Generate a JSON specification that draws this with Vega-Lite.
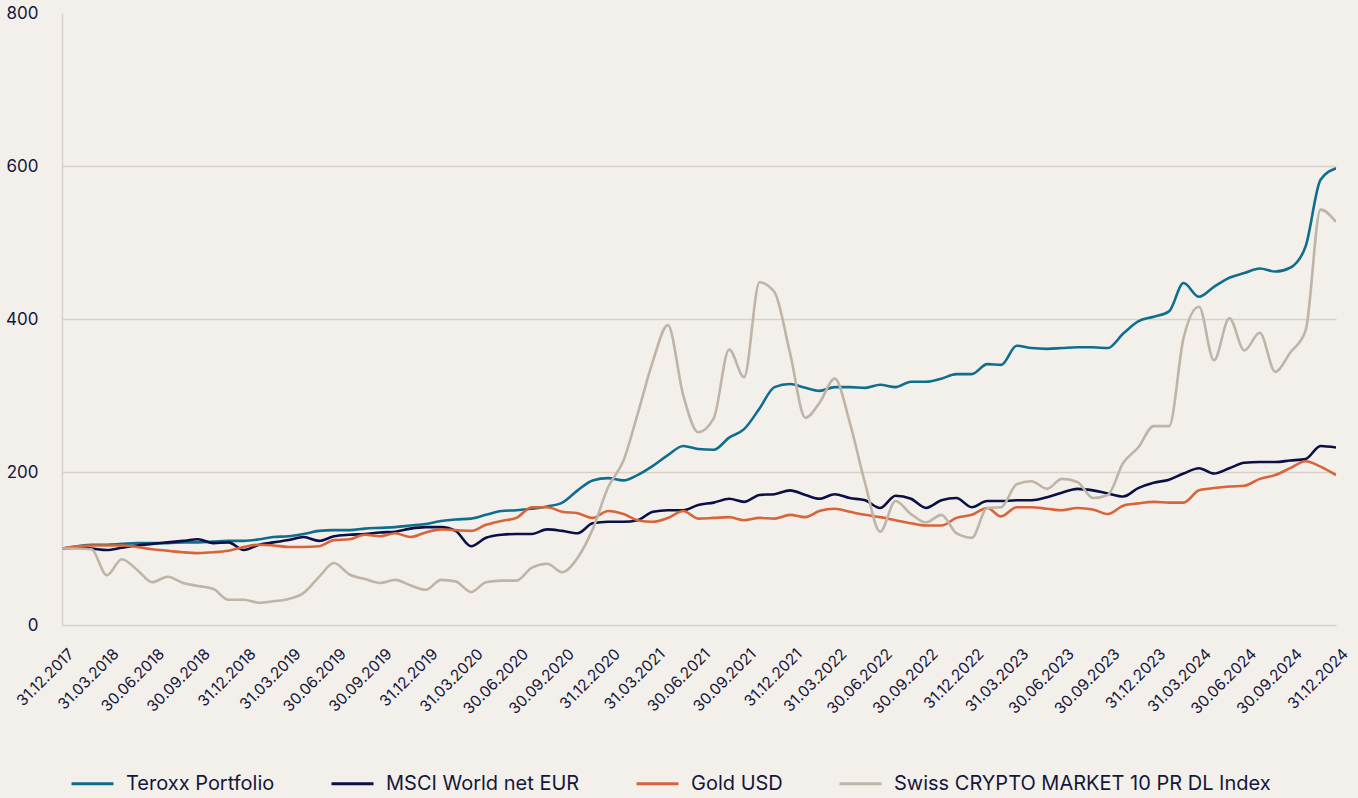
{
  "$schema": "https://vega.github.io/schema/vega-lite/v6.json",
  "width": 1274,
  "height": 612,
  "autosize": {"type": "none"},
  "padding": {"left": 62, "top": 13, "right": 22, "bottom": 173},
  "background": "#f3f0ec",
  "config": {
    "view": {"stroke": null},
    "font": "Inter",
    "axis": {"labelColor": "#15173a", "labelFont": "Inter", "ticks": false, "title": null}
  },
  "data": {
    "values": [
      {"d":"2017-12-31","t":100,"m":100,"g":100,"c":100},
      {"d":"2018-01-31","t":103,"m":101,"g":103,"c":100},
      {"d":"2018-02-28","t":105,"m":100,"g":104,"c":99},
      {"d":"2018-03-31","t":105,"m":98,"g":104,"c":65},
      {"d":"2018-04-30","t":106,"m":101,"g":104,"c":86},
      {"d":"2018-05-31","t":107,"m":104,"g":102,"c":72},
      {"d":"2018-06-30","t":107,"m":106,"g":99,"c":56},
      {"d":"2018-07-31","t":107,"m":108,"g":97,"c":63},
      {"d":"2018-08-31","t":108,"m":110,"g":95,"c":55},
      {"d":"2018-09-30","t":108,"m":112,"g":94,"c":51},
      {"d":"2018-10-31","t":109,"m":107,"g":95,"c":47},
      {"d":"2018-11-30","t":110,"m":108,"g":97,"c":33},
      {"d":"2018-12-31","t":110,"m":98,"g":102,"c":33},
      {"d":"2019-01-31","t":112,"m":105,"g":105,"c":29},
      {"d":"2019-02-28","t":115,"m":108,"g":104,"c":31},
      {"d":"2019-03-31","t":116,"m":111,"g":102,"c":34},
      {"d":"2019-04-30","t":119,"m":115,"g":102,"c":42},
      {"d":"2019-05-31","t":123,"m":110,"g":103,"c":63},
      {"d":"2019-06-30","t":124,"m":116,"g":111,"c":81},
      {"d":"2019-07-31","t":124,"m":118,"g":112,"c":66},
      {"d":"2019-08-31","t":126,"m":119,"g":118,"c":60},
      {"d":"2019-09-30","t":127,"m":121,"g":116,"c":55},
      {"d":"2019-10-31","t":128,"m":122,"g":120,"c":59},
      {"d":"2019-11-30","t":130,"m":126,"g":115,"c":52},
      {"d":"2019-12-31","t":132,"m":128,"g":121,"c":46},
      {"d":"2020-01-31","t":136,"m":128,"g":125,"c":59},
      {"d":"2020-02-29","t":138,"m":123,"g":124,"c":57},
      {"d":"2020-03-31","t":139,"m":103,"g":123,"c":43},
      {"d":"2020-04-30","t":144,"m":114,"g":131,"c":56},
      {"d":"2020-05-31","t":149,"m":118,"g":136,"c":58},
      {"d":"2020-06-30","t":150,"m":119,"g":140,"c":58},
      {"d":"2020-07-31","t":152,"m":119,"g":154,"c":75},
      {"d":"2020-08-31","t":155,"m":125,"g":154,"c":80},
      {"d":"2020-09-30","t":160,"m":123,"g":148,"c":69},
      {"d":"2020-10-31","t":176,"m":120,"g":146,"c":88},
      {"d":"2020-11-30","t":189,"m":133,"g":140,"c":125},
      {"d":"2020-12-31","t":192,"m":135,"g":149,"c":180},
      {"d":"2021-01-31","t":189,"m":135,"g":145,"c":215},
      {"d":"2021-02-28","t":196,"m":137,"g":137,"c":275},
      {"d":"2021-03-31","t":208,"m":148,"g":135,"c":345},
      {"d":"2021-04-30","t":222,"m":150,"g":140,"c":392},
      {"d":"2021-05-31","t":234,"m":150,"g":149,"c":300},
      {"d":"2021-06-30","t":230,"m":157,"g":139,"c":252},
      {"d":"2021-07-31","t":229,"m":160,"g":140,"c":270},
      {"d":"2021-08-31","t":245,"m":165,"g":141,"c":360},
      {"d":"2021-09-30","t":256,"m":161,"g":137,"c":324},
      {"d":"2021-10-31","t":283,"m":170,"g":140,"c":448},
      {"d":"2021-11-30","t":311,"m":171,"g":139,"c":435},
      {"d":"2021-12-31","t":315,"m":176,"g":144,"c":356},
      {"d":"2022-01-31","t":310,"m":170,"g":141,"c":271},
      {"d":"2022-02-28","t":306,"m":165,"g":149,"c":290},
      {"d":"2022-03-31","t":311,"m":171,"g":152,"c":322},
      {"d":"2022-04-30","t":311,"m":166,"g":148,"c":265},
      {"d":"2022-05-31","t":310,"m":163,"g":144,"c":185},
      {"d":"2022-06-30","t":314,"m":153,"g":141,"c":122},
      {"d":"2022-07-31","t":311,"m":169,"g":137,"c":162},
      {"d":"2022-08-31","t":318,"m":165,"g":133,"c":145},
      {"d":"2022-09-30","t":318,"m":153,"g":130,"c":134},
      {"d":"2022-10-31","t":322,"m":163,"g":130,"c":144},
      {"d":"2022-11-30","t":328,"m":166,"g":140,"c":120},
      {"d":"2022-12-31","t":328,"m":154,"g":144,"c":114},
      {"d":"2023-01-31","t":341,"m":162,"g":153,"c":153},
      {"d":"2023-02-28","t":340,"m":162,"g":142,"c":154},
      {"d":"2023-03-31","t":365,"m":163,"g":154,"c":184},
      {"d":"2023-04-30","t":362,"m":163,"g":154,"c":188},
      {"d":"2023-05-31","t":361,"m":167,"g":152,"c":178},
      {"d":"2023-06-30","t":362,"m":173,"g":150,"c":191},
      {"d":"2023-07-31","t":363,"m":178,"g":153,"c":187},
      {"d":"2023-08-31","t":363,"m":176,"g":151,"c":166},
      {"d":"2023-09-30","t":362,"m":172,"g":145,"c":170},
      {"d":"2023-10-31","t":381,"m":168,"g":156,"c":212},
      {"d":"2023-11-30","t":397,"m":179,"g":159,"c":232},
      {"d":"2023-12-31","t":403,"m":186,"g":161,"c":260},
      {"d":"2024-01-31","t":410,"m":190,"g":160,"c":260},
      {"d":"2024-02-29","t":447,"m":198,"g":160,"c":375},
      {"d":"2024-03-31","t":429,"m":205,"g":176,"c":416},
      {"d":"2024-04-30","t":442,"m":198,"g":179,"c":346},
      {"d":"2024-05-31","t":454,"m":205,"g":181,"c":401},
      {"d":"2024-06-30","t":460,"m":212,"g":182,"c":359},
      {"d":"2024-07-31","t":466,"m":213,"g":191,"c":382},
      {"d":"2024-08-31","t":462,"m":213,"g":196,"c":331},
      {"d":"2024-09-30","t":467,"m":215,"g":205,"c":356},
      {"d":"2024-10-31","t":495,"m":217,"g":214,"c":385},
      {"d":"2024-11-30","t":582,"m":234,"g":207,"c":543},
      {"d":"2024-12-31","t":597,"m":232,"g":196,"c":527}
    ]
  },
  "transform": [{"fold": ["t", "m", "g", "c"], "as": ["s", "v"]}],
  "mark": {"type": "line", "interpolate": "monotone", "strokeWidth": 2.6, "clip": true},
  "encoding": {
    "x": {
      "field": "d",
      "type": "temporal",
      "scale": {"type": "utc", "domain": [{"year": 2017, "month": 12, "date": 31, "utc": true}, {"year": 2024, "month": 12, "date": 31, "utc": true}]},
      "axis": {
        "values": [
          {"year": 2017, "month": 12, "date": 31, "utc": true},
          {"year": 2018, "month": 3, "date": 31, "utc": true},
          {"year": 2018, "month": 6, "date": 30, "utc": true},
          {"year": 2018, "month": 9, "date": 30, "utc": true},
          {"year": 2018, "month": 12, "date": 31, "utc": true},
          {"year": 2019, "month": 3, "date": 31, "utc": true},
          {"year": 2019, "month": 6, "date": 30, "utc": true},
          {"year": 2019, "month": 9, "date": 30, "utc": true},
          {"year": 2019, "month": 12, "date": 31, "utc": true},
          {"year": 2020, "month": 3, "date": 31, "utc": true},
          {"year": 2020, "month": 6, "date": 30, "utc": true},
          {"year": 2020, "month": 9, "date": 30, "utc": true},
          {"year": 2020, "month": 12, "date": 31, "utc": true},
          {"year": 2021, "month": 3, "date": 31, "utc": true},
          {"year": 2021, "month": 6, "date": 30, "utc": true},
          {"year": 2021, "month": 9, "date": 30, "utc": true},
          {"year": 2021, "month": 12, "date": 31, "utc": true},
          {"year": 2022, "month": 3, "date": 31, "utc": true},
          {"year": 2022, "month": 6, "date": 30, "utc": true},
          {"year": 2022, "month": 9, "date": 30, "utc": true},
          {"year": 2022, "month": 12, "date": 31, "utc": true},
          {"year": 2023, "month": 3, "date": 31, "utc": true},
          {"year": 2023, "month": 6, "date": 30, "utc": true},
          {"year": 2023, "month": 9, "date": 30, "utc": true},
          {"year": 2023, "month": 12, "date": 31, "utc": true},
          {"year": 2024, "month": 3, "date": 31, "utc": true},
          {"year": 2024, "month": 6, "date": 30, "utc": true},
          {"year": 2024, "month": 9, "date": 30, "utc": true},
          {"year": 2024, "month": 12, "date": 31, "utc": true}
        ],
        "labelExpr": "utcFormat(datum.value, '%d.%m.%Y')",
        "labelAngle": -45,
        "labelFontSize": 15.5,
        "labelPadding": 21,
        "labelOffset": 4,
        "labelOverlap": false,
        "labelBound": false,
        "labelFlush": false,
        "grid": false,
        "domain": true,
        "domainColor": "#d8d1c8",
        "domainWidth": 1.5
      }
    },
    "y": {
      "field": "v",
      "type": "quantitative",
      "scale": {"domain": [0, 800], "nice": false},
      "axis": {
        "values": [0, 200, 400, 600, 800],
        "labelFontSize": 17,
        "labelPadding": 24,
        "domain": true,
        "domainColor": "#d8d1c8",
        "domainWidth": 1.5,
        "grid": true,
        "gridColor": "#d8d1c8",
        "gridWidth": 1.5,
        "gridOpacity": {"condition": {"test": "datum.value == 800 || datum.value == 0", "value": 0}, "value": 1}
      }
    },
    "color": {
      "field": "s",
      "type": "nominal",
      "sort": ["t", "m", "g", "c"],
      "scale": {"domain": ["t", "m", "g", "c"], "range": ["#0e6e8c", "#0b0f46", "#d8643a", "#bfb4a8"]},
      "legend": {
        "orient": "none",
        "legendX": 8,
        "legendY": 748,
        "direction": "horizontal",
        "title": null,
        "padding": 0,
        "symbolType": "stroke",
        "symbolSize": 1764,
        "symbolStrokeWidth": 3,
        "labelFontSize": 20,
        "labelFont": "Inter",
        "labelColor": "#15173a",
        "labelOffset": 11,
        "columnPadding": 50,
        "labelLimit": 600,
        "labelExpr": "datum.value == 't' ? 'Teroxx Portfolio' : datum.value == 'm' ? 'MSCI World net EUR' : datum.value == 'g' ? 'Gold USD' : 'Swiss CRYPTO MARKET 10 PR DL Index'"
      }
    }
  }
}
